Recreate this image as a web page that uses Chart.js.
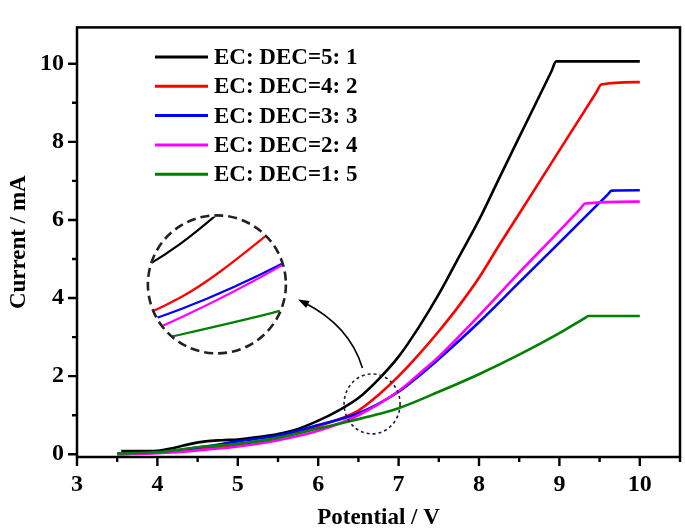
<!DOCTYPE html>
<html>
<head>
<meta charset="utf-8">
<script src="https://cdn.jsdelivr.net/npm/chart.js@4.4.1/dist/chart.umd.min.js"></script>
<style>
  body { margin: 0; background: #fff; }
  #wrap { width: 685px; height: 530px; }
</style>
</head>
<body>
<div id="wrap"><canvas id="chart" width="685" height="530"></canvas></div>
<script>
// series labels and colours
const names = ["EC: DEC=5: 1", "EC: DEC=4: 2", "EC: DEC=3: 3", "EC: DEC=2: 4", "EC: DEC=1: 5"];
const colors = ["#000000", "#ff0000", "#0000ff", "#ff00ff", "#008000"];

// potential (V) and current (mA)
const blackV = [3.55, 3.75, 4.0, 4.2, 4.4, 4.6, 4.8, 5.0, 5.25, 5.5, 5.75, 6.0, 6.25, 6.5, 6.75, 7.0, 7.25, 7.5, 7.75, 8.0, 8.24, 8.5, 8.9, 8.96, 10.0];
const blackI = [0.08, 0.08, 0.09, 0.16, 0.26, 0.33, 0.36, 0.38, 0.44, 0.52, 0.65, 0.86, 1.12, 1.44, 1.92, 2.5, 3.25, 4.1, 5.05, 6.0, 7.02, 8.12, 9.8, 10.06, 10.06];
const redV = [3.5, 4.0, 4.5, 5.0, 5.5, 6.0, 6.5, 6.75, 7.0, 7.25, 7.5, 7.75, 8.0, 8.24, 8.5, 9.0, 9.46, 9.52, 10.0];
const redI = [0.0, 0.04, 0.12, 0.25, 0.42, 0.72, 1.12, 1.52, 2.0, 2.55, 3.15, 3.8, 4.52, 5.32, 6.16, 7.78, 9.27, 9.47, 9.53];
const blueV = [3.5, 4.0, 4.5, 5.0, 5.5, 6.0, 6.5, 7.0, 7.25, 7.5, 8.0, 8.5, 9.0, 9.6, 9.65, 10.0];
const blueI = [0.02, 0.05, 0.17, 0.33, 0.48, 0.75, 1.05, 1.6, 2.0, 2.44, 3.38, 4.4, 5.42, 6.65, 6.75, 6.76];
const magentaV = [3.5, 4.0, 4.5, 5.0, 5.5, 6.0, 6.5, 7.0, 7.25, 7.5, 8.0, 8.5, 9.0, 9.27, 9.32, 10.0];
const magentaI = [0.0, 0.03, 0.1, 0.2, 0.36, 0.6, 1.0, 1.62, 2.05, 2.5, 3.55, 4.65, 5.72, 6.31, 6.42, 6.47];
const greenV = [3.5, 4.0, 4.5, 5.0, 5.5, 6.0, 6.5, 6.75, 7.0, 7.5, 8.0, 8.5, 9.0, 9.31, 9.36, 10.0];
const greenI = [0.02, 0.05, 0.18, 0.27, 0.42, 0.66, 0.9, 1.03, 1.18, 1.6, 2.05, 2.55, 3.1, 3.48, 3.54, 3.54];

// axis ticks
const xTicks = [3, 4, 5, 6, 7, 8, 9, 10];
const xMinor = [3.5, 4.5, 5.5, 6.5, 7.5, 8.5, 9.5, 10.5];
const yTicks = [0, 2, 4, 6, 8, 10];
const yMinor = [1, 3, 5, 7, 9];

const seriesV = [blackV, redV, blueV, magentaV, greenV];
const seriesI = [blackI, redI, blueI, magentaI, greenI];

// annotation anchors, in data units
const zoomCircle = [6.67, 1.29];
const zoomFrom = [6.6, 1.2];
const insetAt = [4.74, 4.35];
const arrowPath = [[6.55, 2.21], [6.39, 3.30], [5.75, 3.96]];

const serif = "'Liberation Serif', 'Times New Roman', serif";

const datasets = names.map(function(name, i) {
  return {
    label: name,
    data: seriesV[i].map(function(v, j) { return { x: v, y: seriesI[i][j] }; }),
    borderColor: colors[i],
    backgroundColor: colors[i],
    borderWidth: 2.6,
    pointRadius: 0,
    tension: 0.4,
    cubicInterpolationMode: "monotone",
    order: names.length - i
  };
});

const decor = {
  id: "decor",
  afterDatasetsDraw(chart) {
    const ctx = chart.ctx, xs = chart.scales.x, ys = chart.scales.y;
    const px = v => xs.getPixelForValue(v), py = v => ys.getPixelForValue(v);

    // magnified inset
    const sx = px(zoomFrom[0]), sy = py(zoomFrom[1]);
    const cx = px(insetAt[0]), cy = py(insetAt[1]);
    const r = 69, kx = 4.6, ky = 4.3;
    const tx = x => cx + (x - sx) * kx, ty = y => cy + (y - sy) * ky;
    ctx.save();
    ctx.beginPath();
    ctx.arc(cx, cy, r - 1, 0, Math.PI * 2);
    ctx.clip();
    ctx.lineWidth = 2.2;
    for (let i = 0; i < names.length; i++) {
      const pts = chart.getDatasetMeta(i).data;
      ctx.strokeStyle = colors[i];
      ctx.beginPath();
      ctx.moveTo(tx(pts[0].x), ty(pts[0].y));
      for (let j = 1; j < pts.length; j++) {
        const a = pts[j - 1], b = pts[j];
        ctx.bezierCurveTo(tx(a.cp2x), ty(a.cp2y), tx(b.cp1x), ty(b.cp1y), tx(b.x), ty(b.y));
      }
      ctx.stroke();
    }
    ctx.restore();

    ctx.save();
    ctx.strokeStyle = "#222";
    ctx.lineWidth = 2.6;
    ctx.setLineDash([9, 5]);
    ctx.beginPath();
    ctx.arc(cx, cy, r, 0, Math.PI * 2);
    ctx.stroke();

    ctx.strokeStyle = "#1c1c40";
    ctx.lineWidth = 1.6;
    ctx.setLineDash([3, 3]);
    ctx.beginPath();
    ctx.ellipse(px(zoomCircle[0]), py(zoomCircle[1]), 28, 30, 0, 0, Math.PI * 2);
    ctx.stroke();

    // arrow
    ctx.setLineDash([]);
    ctx.strokeStyle = "#000";
    ctx.fillStyle = "#000";
    const p0 = arrowPath[0], p1 = arrowPath[1], p2 = arrowPath[2];
    const ex = px(p2[0]), ey = py(p2[1]);
    const ang = Math.atan2(ey - py(p1[1]), ex - px(p1[0]));
    ctx.beginPath();
    ctx.moveTo(px(p0[0]), py(p0[1]));
    ctx.quadraticCurveTo(px(p1[0]), py(p1[1]), ex - 6 * Math.cos(ang), ey - 6 * Math.sin(ang));
    ctx.stroke();
    ctx.beginPath();
    ctx.moveTo(ex, ey);
    ctx.lineTo(ex - 11 * Math.cos(ang) + 4 * Math.sin(ang), ey - 11 * Math.sin(ang) - 4 * Math.cos(ang));
    ctx.lineTo(ex - 11 * Math.cos(ang) - 4 * Math.sin(ang), ey - 11 * Math.sin(ang) + 4 * Math.cos(ang));
    ctx.closePath();
    ctx.fill();
    ctx.restore();
  },
  afterDraw(chart) {
    const ctx = chart.ctx, a = chart.chartArea, xs = chart.scales.x, ys = chart.scales.y;
    ctx.save();
    ctx.strokeStyle = "#000";
    ctx.lineWidth = 2.5;
    ctx.strokeRect(a.left, a.top, a.right - a.left, a.bottom - a.top);

    // tick marks, major and minor
    ctx.lineWidth = 2.4;
    ctx.beginPath();
    xTicks.forEach(v => { const x = xs.getPixelForValue(v); ctx.moveTo(x, a.bottom); ctx.lineTo(x, a.bottom + 9); });
    xMinor.forEach(v => { const x = xs.getPixelForValue(v); ctx.moveTo(x, a.bottom); ctx.lineTo(x, a.bottom + 5); });
    yTicks.forEach(v => { const y = ys.getPixelForValue(v); ctx.moveTo(a.left, y); ctx.lineTo(a.left - 9, y); });
    yMinor.forEach(v => { const y = ys.getPixelForValue(v); ctx.moveTo(a.left, y); ctx.lineTo(a.left - 5, y); });
    ctx.stroke();

    // legend
    ctx.font = "bold 23px " + serif;
    ctx.textBaseline = "middle";
    ctx.fillStyle = "#000";
    ctx.lineWidth = 3;
    names.forEach(function(name, i) {
      const y = 57 + i * 29.3;
      ctx.strokeStyle = colors[i];
      ctx.beginPath();
      ctx.moveTo(155, y);
      ctx.lineTo(208, y);
      ctx.stroke();
      ctx.fillText(name, 214, y + 1);
    });
    ctx.restore();
  }
};

new Chart(document.getElementById("chart"), {
  type: "line",
  data: { datasets: datasets },
  options: {
    responsive: false,
    animation: false,
    layout: { padding: { top: 5, right: 5, left: 0, bottom: 0 } },
    plugins: { legend: { display: false }, tooltip: { enabled: false } },
    scales: {
      x: {
        type: "linear",
        min: 3,
        max: 10.5,
        grid: { display: false, drawTicks: false },
        border: { display: false },
        afterBuildTicks: s => { s.ticks = xTicks.map(v => ({ value: v })); },
        afterFit: s => { s.height = 73; },
        ticks: { color: "#000", padding: 13, maxRotation: 0, font: { family: serif, weight: "bold", size: 24 } },
        title: { display: true, text: "Potential / V", color: "#000", padding: 0, font: { family: serif, weight: "bold", size: 23, lineHeight: 1 } }
      },
      y: {
        min: -0.07,
        max: 10.93,
        grid: { display: false, drawTicks: false },
        border: { display: false },
        afterBuildTicks: s => { s.ticks = yTicks.map(v => ({ value: v })); },
        afterFit: s => { s.width = 77; },
        ticks: { color: "#000", padding: 13, font: { family: serif, weight: "bold", size: 24 } },
        title: { display: true, text: "Current / mA", color: "#000", padding: { top: 8, bottom: 0 }, font: { family: serif, weight: "bold", size: 23, lineHeight: 1 } }
      }
    }
  },
  plugins: [decor]
});
</script>
</body>
</html>
